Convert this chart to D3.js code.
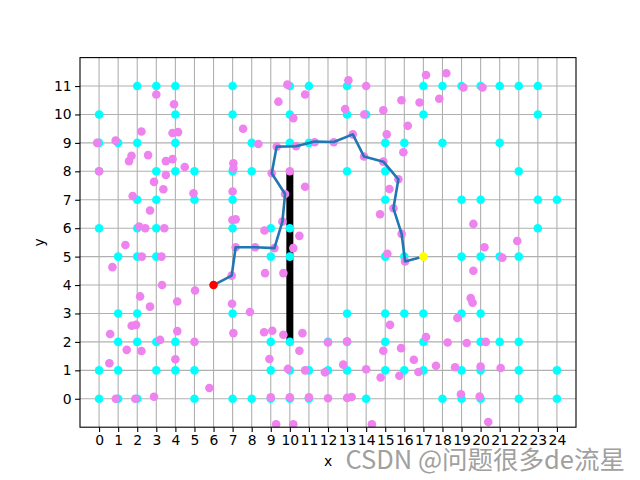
<!DOCTYPE html>
<html>
<head>
<meta charset="utf-8">
<script src="https://cdn.jsdelivr.net/npm/d3@7"></script>
<style>
  html, body { margin: 0; padding: 0; background: #fff; }
  svg { display: block; }
  text { font-family: "DejaVu Sans", sans-serif; }
</style>
</head>
<body>
<svg id="chart" width="640" height="480"></svg>
<script>
// ---- data ----
const xTicks = d3.range(0, 25);
const yTicks = d3.range(0, 12);

// cyan grid points (obstacles), [x, y]
const cyanPoints = [
  [2,11],[3,11],[4,11],[7,11],[10,11],[11,11],[13,11],[17,11],[18,11],[19,11],[20,11],[21,11],[22,11],[23,11],
  [0,10],[4,10],[7,10],[10,10],[13,10],[14,10],[17,10],[23,10],
  [0,9],[1,9],[2,9],[4,9],[8,9],[10,9],[11,9],[15,9],[16,9],[18,9],[21,9],
  [0,8],[3,8],[4,8],[5,8],[7,8],[8,8],[13,8],[15,8],[22,8],
  [2,7],[3,7],[5,7],[7,7],[15,7],[19,7],[20,7],[23,7],[24,7],
  [0,6],[2,6],[3,6],[7,6],[9,6],[10,6],[23,6],
  [1,5],[2,5],[3,5],[9,5],[10,5],[15,5],[16,5],[19,5],[20,5],[21,5],[22,5],
  [1,3],[2,3],[7,3],[13,3],[15,3],[16,3],[17,3],[19,3],[20,3],
  [1,2],[2,2],[3,2],[4,2],[9,2],[10,2],[12,2],[13,2],[15,2],[17,2],[20,2],[21,2],[22,2],
  [0,1],[1,1],[3,1],[4,1],[5,1],[9,1],[10,1],[11,1],[12,1],[13,1],[15,1],[16,1],[17,1],[19,1],[20,1],[22,1],[24,1],
  [0,0],[1,0],[2,0],[5,0],[7,0],[8,0],[9,0],[10,0],[11,0],[14,0],[18,0],[19,0],[20,0],[22,0],[24,0]
];

// violet sampled points, [x, y]
const violetPoints = [
  [3.0,10.7],[3.93,10.36],[7.55,9.5],[-0.1,9.0],[0.87,9.08],[2.22,9.4],[3.85,9.35],[4.14,9.38],
  [1.7,8.55],[1.57,8.36],[2.57,8.57],[3.5,8.36],[3.85,8.43],[4.49,8.15],[7.04,8.28],[7.04,8.1],[0.0,8.0],
  [3.5,7.87],[2.88,7.63],[3.37,7.37],[4.95,7.23],[7.0,7.29],[1.76,7.13],[2.67,6.62],
  [2.1,6.06],[2.42,6.0],[3.42,6.0],[6.99,6.29],[7.16,6.31],[1.38,5.41],[2.24,5.0],[3.27,5.0],
  [0.7,4.63],[7.16,5.33],[6.95,4.33],[3.3,4.0],[5.03,3.81],[2.15,3.6],[4.1,3.42],[2.67,3.24],
  [6.97,3.34],[7.91,3.05],[1.71,2.57],[1.94,2.6],[0.58,2.28],[4.1,2.38],[7.04,2.31],[3.2,2.07],
  [5.0,2.0],[1.45,1.72],[2.22,1.68],[0.54,1.25],[4.0,1.39],[5.78,0.38],[0.88,0.0],[1.9,0.0],[2.88,0.07],
  [9.87,11.05],[10.8,10.7],[13.07,11.2],[14.0,11.0],[9.4,10.45],[10.18,9.87],[12.9,10.19],[13.9,10.0],
  [14.9,10.15],[15.85,10.5],[16.18,9.6],[8.35,8.96],[9.31,8.87],[10.33,8.88],[11.3,9.02],[12.3,9.02],
  [13.3,9.3],[15.08,9.3],[15.95,8.67],[10.0,8.0],[9.05,7.93],[13.89,8.52],[14.9,8.34],[15.69,7.72],
  [10.8,7.46],[9.75,7.2],[9.61,6.23],[8.67,5.92],[10.5,5.73],[8.18,5.33],[9.19,5.3],[10.18,5.3],
  [8.7,4.42],[9.66,4.42],[15.22,7.38],[15.43,6.7],[14.73,6.49],[15.86,5.8],[15.11,5.1],[16.04,4.83],
  [15.25,2.6],[8.65,2.34],[9.08,2.39],[9.66,2.25],[10.66,2.31],[10.5,1.69],[12.0,1.98],[13.0,2.02],
  [14.9,1.69],[15.83,1.78],[8.93,1.4],[12.8,1.2],[9.9,1.05],[10.8,1.0],[11.84,0.93],[14.0,1.04],
  [14.76,0.75],[15.74,0.81],[9.0,0.05],[10.0,0.05],[11.0,0.05],[12.0,0.02],[13.0,0.03],[13.24,0.06],
  [9.28,-0.9],[10.18,-0.9],[14.3,-0.9],
  [17.14,11.39],[18.2,11.45],[19.1,10.95],[20.1,10.95],[16.8,10.42],[17.83,10.55],[19.62,6.15],
  [21.92,5.55],[20.2,5.33],[21.14,4.96],[19.62,4.5],[19.48,3.54],[19.58,3.38],[18.78,2.84],
  [17.14,2.17],[18.27,1.98],[19.27,1.96],[20.27,2.0],[16.5,1.37],[16.74,0.94],[17.66,1.16],
  [18.66,1.11],[20.0,1.13],[21.05,1.08],[18.97,0.16],[19.95,0.08],[20.4,-0.82]
];

// found path
const pathPoints = [
  [6,4],[6.95,4.33],[7.16,5.33],[8.18,5.33],[9.19,5.3],[9.61,6.23],[9.75,7.2],[9.05,7.93],
  [9.31,8.87],[10.33,8.88],[11.3,9.05],[12.3,9.03],[13.3,9.3],[13.89,8.52],[14.9,8.34],
  [15.69,7.72],[15.43,6.7],[15.86,5.8],[16.04,4.83],[17,5]
];

// wall segment
const wall = [[10,2],[10,8]];
const startPoint = [6,4];
const endPoint = [17,5];

// ---- drawing ----
const W = 640, H = 480;
const L = 80, R = 576, T = 57.6, B = 427.2;
const svg = d3.select("#chart");
svg.append("rect").attr("width", W).attr("height", H).attr("fill", "#fff");

const x = d3.scaleLinear().domain([-1, 25]).range([L, R]);
const y = d3.scaleLinear().domain([-1, 12]).range([B, T]);

svg.append("defs").append("clipPath").attr("id", "clip")
  .append("rect").attr("x", L).attr("y", T).attr("width", R - L).attr("height", B - T);

// grid
const grid = svg.append("g");
grid.selectAll("line.gx").data(xTicks).join("line")
  .attr("class", "gx")
  .attr("x1", d => x(d)).attr("x2", d => x(d)).attr("y1", T).attr("y2", B)
  .attr("stroke", "#b0b0b0").attr("stroke-width", 1.1);
grid.selectAll("line.gy").data(yTicks).join("line")
  .attr("class", "gy")
  .attr("y1", d => y(d)).attr("y2", d => y(d)).attr("x1", L).attr("x2", R)
  .attr("stroke", "#b0b0b0").attr("stroke-width", 1.1);

const plot = svg.append("g").attr("clip-path", "url(#clip)");

// wall
plot.append("line")
  .attr("x1", x(wall[0][0])).attr("y1", y(wall[0][1]))
  .attr("x2", x(wall[1][0])).attr("y2", y(wall[1][1]))
  .attr("stroke", "#000").attr("stroke-width", 7);

const r = 4.3;
plot.selectAll("circle.c").data(cyanPoints).join("circle")
  .attr("class", "c")
  .attr("cx", d => x(d[0])).attr("cy", d => y(d[1])).attr("r", r)
  .attr("fill", "cyan");

plot.selectAll("circle.v").data(violetPoints).join("circle")
  .attr("class", "v")
  .attr("cx", d => x(d[0])).attr("cy", d => y(d[1])).attr("r", r)
  .attr("fill", "violet");

plot.append("path")
  .attr("d", d3.line().x(d => x(d[0])).y(d => y(d[1]))(pathPoints))
  .attr("fill", "none").attr("stroke", "#1f77b4").attr("stroke-width", 2.6)
  .attr("stroke-linejoin", "round").attr("stroke-linecap", "butt");

plot.append("circle").attr("cx", x(startPoint[0])).attr("cy", y(startPoint[1])).attr("r", r).attr("fill", "red");
plot.append("circle").attr("cx", x(endPoint[0])).attr("cy", y(endPoint[1])).attr("r", r).attr("fill", "yellow");

// axes
const xAxis = d3.axisBottom(x).tickValues(xTicks).tickFormat(d3.format("d")).tickSize(4.9).tickPadding(3.5);
const yAxis = d3.axisLeft(y).tickValues(yTicks).tickFormat(d3.format("d")).tickSize(4.9).tickPadding(3.5);

const gx = svg.append("g").attr("transform", `translate(0,${B})`).call(xAxis);
const gy = svg.append("g").attr("transform", `translate(${L},0)`).call(yAxis);
[gx, gy].forEach(g => {
  g.select(".domain").remove();
  g.selectAll(".tick line").attr("stroke", "#000").attr("stroke-width", 1.1);
  g.selectAll(".tick text").attr("fill", "#000").style("font-size", "13.9px")
    .style("font-family", "'DejaVu Sans', sans-serif");
});

// frame
svg.append("rect").attr("x", L).attr("y", T).attr("width", R - L).attr("height", B - T)
  .attr("fill", "none").attr("stroke", "#000").attr("stroke-width", 1.1);

// axis labels
svg.append("text").attr("x", (L + R) / 2).attr("y", 466).attr("text-anchor", "middle")
  .style("font-size", "13.9px").text("x");
svg.append("text").attr("transform", `translate(44,${(T + B) / 2}) rotate(-90)`)
  .attr("text-anchor", "middle").style("font-size", "13.9px").text("y");

// watermark
svg.append("text").attr("x", 625).attr("y", 469).attr("text-anchor", "end")
  .style("font-family", "'Noto Sans CJK SC', sans-serif").style("font-size", "25.5px")
  .attr("fill", "#a0a0a0").attr("stroke", "#ffffff").attr("stroke-width", 0.6)
  .attr("paint-order", "stroke")
  .text("CSDN @问题很多de流星");
</script>
</body>
</html>
